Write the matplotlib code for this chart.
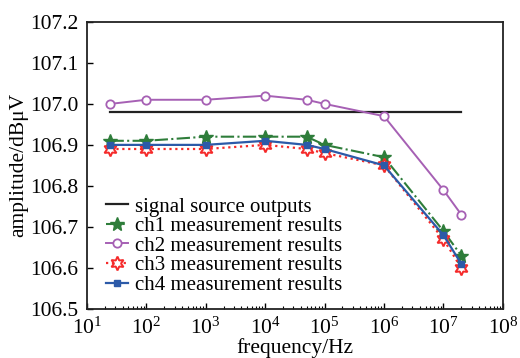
import matplotlib.pyplot as plt
import numpy as np
from matplotlib.ticker import LogLocator, LogFormatterMathtext, MultipleLocator, FormatStrFormatter

plt.rcParams['font.family'] = ['Liberation Serif', 'DejaVu Serif']
plt.rcParams['mathtext.fontset'] = 'stix'

# data
freq = [25, 100, 1e3, 1e4, 5e4, 1e5, 1e6, 1e7, 2e7]
source = [106.98] * len(freq)
ch1 = [106.91, 106.91, 106.92, 106.92, 106.92, 106.90, 106.87, 106.69, 106.63]
ch2 = [107.00, 107.01, 107.01, 107.02, 107.01, 107.00, 106.97, 106.79, 106.73]
ch3 = [106.89, 106.89, 106.89, 106.90, 106.89, 106.88, 106.85, 106.67, 106.60]
ch4 = [106.90, 106.90, 106.90, 106.91, 106.90, 106.89, 106.85, 106.68, 106.61]

fig = plt.figure(figsize=(5.2, 3.58), dpi=100)
ax = fig.add_axes([0.167, 0.137, 0.800, 0.802])

ax.plot(freq, source, color='#222222', lw=1.6, label='signal source outputs')
ax.plot(freq, ch1, color='#2e7d3a', lw=1.5, ls='-.', marker='*', ms=10,
        label='ch1 measurement results')
ax.plot(freq, ch2, color='#a660b4', lw=1.4, marker='o', ms=6, mfc='white',
        mew=1.3, label='ch2 measurement results')
ax.plot(freq, ch3, color='#f52a2a', lw=1.6, ls=':', marker=(6, 1, 0), ms=10,
        mfc='white', mew=1.4, label='ch3 measurement results')
ax.plot(freq, ch4, color='#2c5aa8', lw=1.6, marker='s', ms=5,
        label='ch4 measurement results')

ax.set_xscale('log')
ax.set_xlim(10, 1e8)
ax.set_ylim(106.5, 107.2)
ax.xaxis.set_major_locator(LogLocator(base=10, numticks=10))
ax.xaxis.set_minor_locator(LogLocator(base=10, subs=np.arange(2, 10), numticks=10))
ax.xaxis.set_major_formatter(LogFormatterMathtext())
ax.yaxis.set_major_locator(MultipleLocator(0.1))
ax.yaxis.set_major_formatter(FormatStrFormatter('%.1f'))

ax.tick_params(axis='both', which='both', direction='in', labelsize=15.5, top=False, right=False)
ax.tick_params(axis='both', which='major', length=4, width=1)
ax.tick_params(axis='y', which='major', pad=6)
ax.tick_params(axis='x', which='major', pad=6)
ax.tick_params(axis='x', which='minor', length=2.5, width=0.8)
for s in ax.spines.values():
    s.set_linewidth(1.3)
    s.set_color('#222222')

ax.set_xlabel('frequency/Hz', fontsize=15.5, labelpad=0)
ax.set_ylabel('amplitude/dBμV', fontsize=15.5, labelpad=1)

ax.legend(loc='lower left', bbox_to_anchor=(0.046, 0.049), frameon=False, fontsize=15,
          handlelength=1.05, handletextpad=0.35, labelspacing=0.0, borderaxespad=0,
          borderpad=0)

fig.savefig('out.png', dpi=100)
